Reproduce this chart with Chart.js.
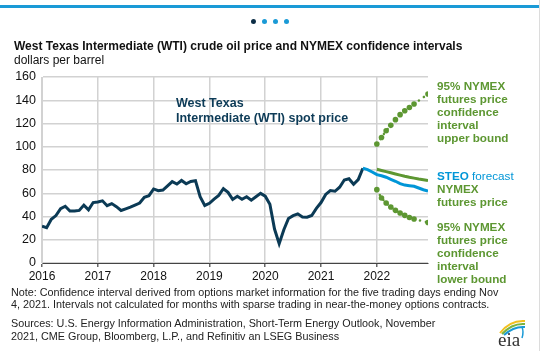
<!DOCTYPE html>
<html>
<head>
<meta charset="utf-8">
<script src="https://cdn.jsdelivr.net/npm/chart.js@4.4.0/dist/chart.umd.min.js"></script>
<style>
  body { margin: 0; background: #fff; font-family: "Liberation Sans", Arial, sans-serif; }
  #wrap { position: relative; width: 543px; height: 351px; overflow: hidden; }
  #chart { position: absolute; left: 0; top: 0; }
  .t { position: absolute; white-space: nowrap; line-height: 14px; }
  .bar { position: absolute; left: 0; top: 5px; width: 539px; height: 3px; background: #1a9ad6; }
  .edge { position: absolute; left: 539px; top: 0; width: 1px; height: 351px; background: #dcdcdc; }
  .dot { position: absolute; top: 19px; width: 5px; height: 5px; border-radius: 50%; background: #1a9ad6; }
  .green { color: #5d9732; font-weight: bold; font-size: 11.7px; line-height: 13px; }
  .note { font-size: 10.8px; color: #222; line-height: 12px; }
</style>
</head>
<body>
<div id="wrap">
  <div class="bar"></div>
  <div class="edge"></div>
  <div class="dot" style="left:251px;background:#0b2d45"></div>
  <div class="dot" style="left:262px"></div>
  <div class="dot" style="left:273px"></div>
  <div class="dot" style="left:284px"></div>

  <canvas id="chart" width="543" height="351"></canvas>

  <div class="t" style="left:14px;top:39px;font-size:12px;font-weight:bold;color:#111">West Texas Intermediate (WTI) crude oil price and NYMEX confidence intervals</div>
  <div class="t" style="left:14px;top:53px;font-size:12px;color:#111">dollars per barrel</div>

  <div class="t" style="left:176px;top:96px;font-size:12.5px;font-weight:bold;color:#0d3b57;line-height:14.6px">West Texas<br>Intermediate (WTI) spot price</div>

  <div class="t green" style="left:437px;top:79px">95% NYMEX<br>futures price<br>confidence<br>interval<br>upper bound</div>
  <div class="t green" style="left:437px;top:169px"><span style="color:#0096d7">STEO</span> <span style="color:#0096d7;font-weight:normal">forecast</span><br>NYMEX<br>futures price</div>
  <div class="t green" style="left:437px;top:220px">95% NYMEX<br>futures price<br>confidence<br>interval<br>lower bound</div>

  <div class="t note" style="left:11px;top:286px">Note: Confidence interval derived from options market information for the five trading days ending Nov</div>
  <div class="t note" style="left:11px;top:298px">4, 2021. Intervals not calculated for months with sparse trading in near-the-money options contracts.</div>
  <div class="t note" style="left:11px;top:317px">Sources: U.S. Energy Information Administration, Short-Term Energy Outlook, November</div>
  <div class="t note" style="left:11px;top:330px">2021, CME Group, Bloomberg, L.P., and Refinitiv an LSEG Business</div>

  <svg style="position:absolute;left:494px;top:314px" width="34" height="34" viewBox="0 0 34 34">
    <path d="M6 19 Q16 6 31 7" stroke="#f2c01e" stroke-width="2" fill="none"/>
    <path d="M8 20 Q18 9 31 10" stroke="#7bb33f" stroke-width="2" fill="none"/>
    <path d="M10 21 Q20 12 31 13" stroke="#1a9ad6" stroke-width="2" fill="none"/>
    <path d="M28 13 Q30 18 28 24" stroke="#1a9ad6" stroke-width="1.5" fill="none"/>
    <text x="4" y="32" font-family="Liberation Serif, DejaVu Serif, serif" font-size="19" fill="#333">eia</text>
  </svg>
</div>

<script>
// monthly values, Jan 2016 .. Dec 2022
const startYear = 2016;
const yearTicks = [2016, 2017, 2018, 2019, 2020, 2021, 2022];

// WTI spot, Jan 2016 - Oct 2021
const wtiStart = 0;
const wtiSpot = [31.7, 30.3, 37.6, 40.8, 46.7, 48.8, 44.7, 44.7, 45.2, 49.8, 45.7, 52.0,
  52.5, 53.5, 49.3, 51.1, 48.5, 45.2, 46.6, 48.0, 49.8, 51.6, 56.6, 57.9,
  63.7, 62.2, 62.7, 66.3, 70.0, 67.9, 71.0, 68.1, 70.2, 70.8, 57.0, 49.5,
  51.4, 55.0, 58.2, 63.9, 60.8, 54.7, 57.4, 54.8, 57.0, 54.0, 57.0, 59.9,
  57.5, 50.5, 29.2, 16.6, 28.6, 38.3, 40.7, 42.3, 39.6, 39.4, 40.9, 47.0,
  52.0, 59.0, 62.3, 61.7, 65.2, 71.4, 72.5, 67.7, 71.7, 81.5];

// STEO forecast, Oct 2021 - Dec 2022
const steoStart = 69;
const steoForecast = [81.5, 80.3, 78.3, 76.0, 75.0, 73.8, 72.0, 70.3, 68.3, 67.0, 66.5, 66.0, 64.5, 63.0, 61.8];

// NYMEX futures and 95% interval, Jan 2022 - Dec 2022
const nymexStart = 72;
const nymexFutures = [80.6, 79.6, 78.6, 77.6, 76.6, 75.6, 74.6, 73.7, 73.0, 72.3, 71.7, 71.0];
const upperBound = [102.4, 108.0, 113.8, 118.4, 123.3, 127.6, 131.0, 133.8, 136.8, null, null, 145.4];
const lowerBound = [63.1, 55.9, 51.6, 48.2, 45.3, 43.0, 41.0, 39.2, 37.8, null, null, 34.9];

const yTicks = [0, 20, 40, 60, 80, 100, 120, 140, 160];

const toPoints = (values, start) => values.map((v, i) => ({ x: startYear + (start + i) / 12, y: v }));

const navy = "#0b3a55";
const blue = "#0096d7";
const green = "#5d9732";

const lineSet = (values, start, color) => ({
    data: toPoints(values, start),
    borderColor: color,
    borderWidth: 3,
    pointRadius: 0,
    tension: 0,
    fill: false
});

const boundSet = (values) => ({
    data: toPoints(values, nymexStart),
    borderColor: green,
    backgroundColor: green,
    borderWidth: 2.5,
    borderDash: [0.1, 6],
    borderCapStyle: "round",
    pointRadius: 2.8,
    pointBorderWidth: 0,
    spanGaps: true,
    tension: 0,
    fill: false
});

new Chart(document.getElementById("chart"), {
    type: "line",
    data: {
        datasets: [
            lineSet(nymexFutures, nymexStart, green),
            boundSet(upperBound),
            boundSet(lowerBound),
            lineSet(steoForecast, steoStart, blue),
            lineSet(wtiSpot, wtiStart, navy)
        ]
    },
    options: {
        responsive: false,
        animation: false,
        events: [],
        layout: { padding: { top: 77, right: 115, bottom: 68, left: 0 } },
        plugins: { legend: { display: false }, tooltip: { enabled: false } },
        scales: {
            x: {
                type: "linear",
                min: startYear,
                max: 2022 + 11 / 12,
                afterFit: (s) => { s.height = 20; },
                afterBuildTicks: (s) => { s.ticks = yearTicks.map(v => ({ value: v })); },
                ticks: {
                    includeBounds: false,
                    padding: 2,
                    color: "#111",
                    font: { family: "Liberation Sans, Arial, sans-serif", size: 12 },
                    callback: (v) => String(v),
                    maxRotation: 0
                },
                grid: { color: "#d2d2d2", lineWidth: 1.5, tickColor: "#666", tickLength: 4 },
                border: { color: "#444", width: 1 }
            },
            y: {
                min: 0,
                max: 160,
                afterFit: (s) => { s.width = 42; },
                afterBuildTicks: (s) => { s.ticks = yTicks.map(v => ({ value: v })); },
                ticks: {
                    padding: 6,
                    color: "#111",
                    font: { family: "Liberation Sans, Arial, sans-serif", size: 12.5 }
                },
                grid: { color: "#d2d2d2", lineWidth: 1.5, drawTicks: false },
                border: { color: "#d2d2d2" }
            }
        }
    }
});
</script>
</body>
</html>
